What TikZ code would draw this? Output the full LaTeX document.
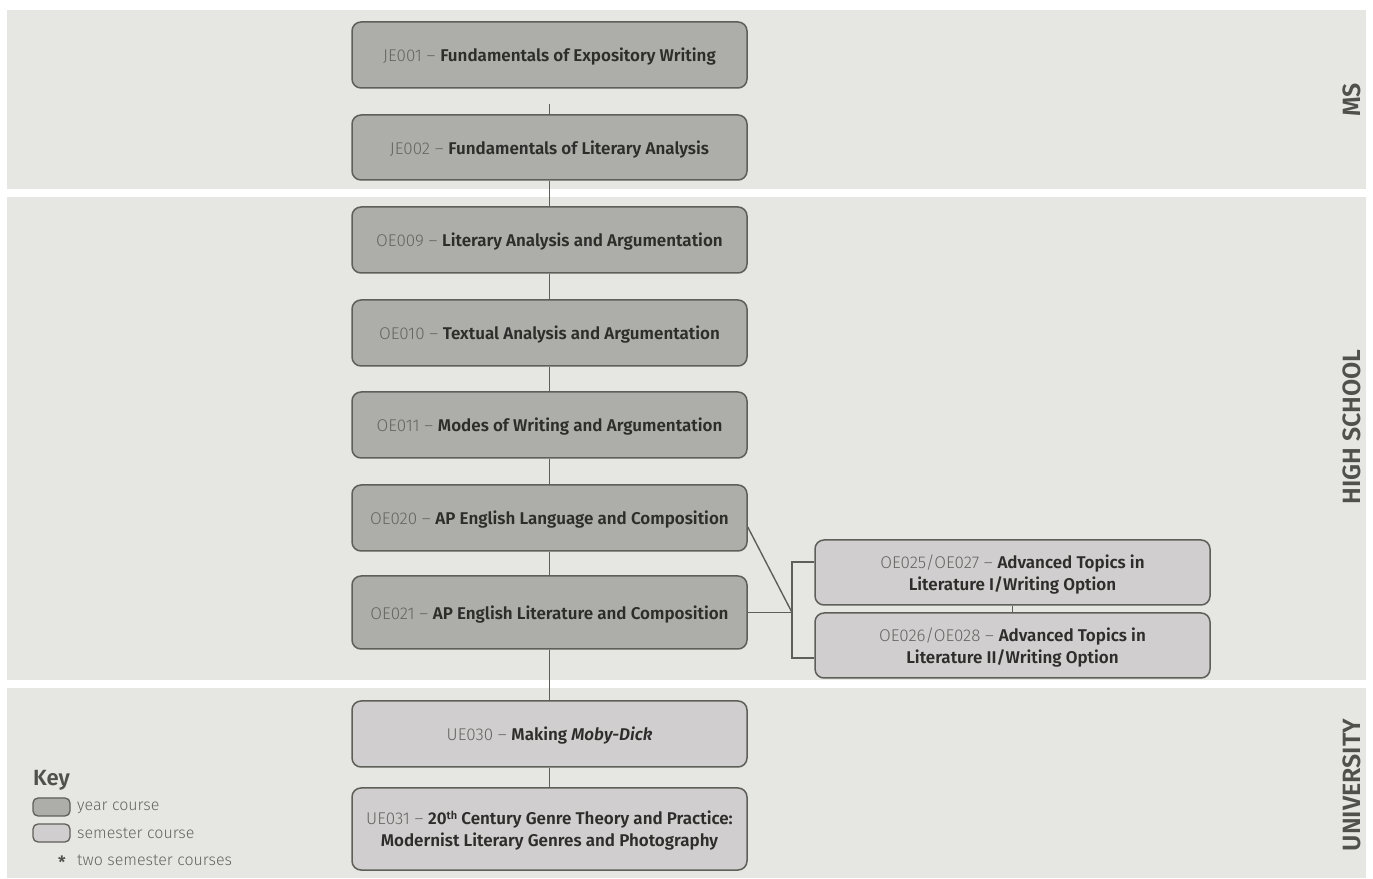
\documentclass[tikz,border=0pt]{standalone}
\usepackage{fontspec}
\setmainfont{Fira Sans}[UprightFont={Fira Sans Light}, BoldFont={Fira Sans SemiBold}, ItalicFont={Fira Sans Light Italic}, BoldItalicFont={Fira Sans SemiBold Italic}]
\definecolor{band}{RGB}{230,230,226}
\definecolor{yearfill}{RGB}{173,173,169}
\definecolor{semfill}{RGB}{208,206,206}
\definecolor{edge}{RGB}{95,95,90}
\definecolor{codegray}{RGB}{100,100,98}
\definecolor{titletext}{RGB}{45,45,43}
\definecolor{sidetext}{RGB}{80,80,76}
\newcommand{\cc}[1]{{\color{codegray}#1}}
\tikzset{
  course/.style={draw=edge, line width=1.5pt, rounded corners=9pt, minimum width=395pt, minimum height=66pt, align=center, text=titletext, font=\fontsize{17}{22}\selectfont, inner sep=0pt, text depth=0pt},
  yearc/.style={course, fill=yearfill},
  semc/.style={course, fill=semfill},
  conn/.style={draw=edge, line width=1.4pt},
  bandbox/.style={fill=band, draw=none},
  sidelabel/.style={rotate=90, text=sidetext, font=\fontsize{25}{28}\selectfont\bfseries},
  keybox/.style={draw=edge, line width=1.3pt, rounded corners=5pt},
  keytext/.style={anchor=west, text=codegray, font=\fontsize{16}{20}\selectfont, inner sep=0pt}
}
\begin{document}
\begin{tikzpicture}[x=1pt,y=1pt]
\useasboundingbox (0,0) rectangle (1373,878);
\fill[white] (0,0) rectangle (1373,878);
% bands
\path[bandbox] (7,689) rectangle (1366,868);
\path[bandbox] (7,198) rectangle (1366,681);
\path[bandbox] (7,0) rectangle (1366,190);
% side labels
\node[sidelabel] (lms) at (1352,778) {MS};
\node[sidelabel] (lhs) at (1352,451) {HIGH SCHOOL};
\node[sidelabel] (luni) at (1352,93) {UNIVERSITY};
% nodes
\node[yearc] (je1) at (549.5,823) {\cc{JE001 –} \textbf{Fundamentals of Expository Writing}};
\node[yearc, minimum height=65pt] (je2) at (549.5,730.5) {\cc{JE002 –} \textbf{Fundamentals of Literary Analysis}};
\node[yearc] (oe9) at (549.5,638) {\cc{OE009 –} \textbf{Literary Analysis and Argumentation}};
\node[yearc] (oe10) at (549.5,545) {\cc{OE010 –} \textbf{Textual Analysis and Argumentation}};
\node[yearc] (oe11) at (549.5,453) {\cc{OE011 –} \textbf{Modes of Writing and Argumentation}};
\node[yearc] (oe20) at (549.5,360) {\cc{OE020 –} \textbf{AP English Language and Composition}};
\node[yearc, minimum height=73pt] (oe21) at (549.5,265.5) {\cc{OE021 –} \textbf{AP English Literature and Composition}};
\node[semc] (ue30) at (549.5,144) {\cc{UE030 –} \textbf{Making \textit{Moby-Dick}}};
\node[semc, minimum height=82pt] (ue31) at (549.5,49) {\cc{UE031 –} \textbf{20{\fontsize{11}{12}\selectfont\raisebox{5pt}{th}} Century Genre Theory and Practice:}\\\textbf{Modernist Literary Genres and Photography}};
\node[semc, minimum height=65pt] (oe25) at (1012.5,305.5) {\cc{OE025/OE027 –} \textbf{Advanced Topics in}\\\textbf{Literature I/Writing Option}};
\node[semc, minimum height=65pt] (oe26) at (1012.5,232.5) {\cc{OE026/OE028 –} \textbf{Advanced Topics in}\\\textbf{Literature II/Writing Option}};
% connectors
\coordinate (stub) at (549.5,774);
\coordinate (hub) at (792,265.5);
\draw[conn] (je2.north) -- (stub);
\draw[conn] (je2) -- (oe9);
\draw[conn] (oe9) -- (oe10);
\draw[conn] (oe10) -- (oe11);
\draw[conn] (oe11) -- (oe20);
\draw[conn] (oe20) -- (oe21);
\draw[conn] (oe21) -- (ue30);
\draw[conn] (ue30) -- (ue31);
\draw[conn] ([yshift=-9pt]oe20.east) -- (hub);
\draw[conn] (oe21.east) -- (hub);
\draw[conn] ([yshift=10.5pt]oe25.west) -| (hub);
\draw[conn] (hub) |- ([yshift=-12.5pt]oe26.west);
\draw[conn] (oe25.south) -- (oe26.north);
% key
\node[anchor=west, inner sep=0pt, text=sidetext, font=\fontsize{22}{26}\selectfont\bfseries] (key) at (33,98) {Key};
\draw[keybox, fill=yearfill] (33,62) rectangle (70,80);
\draw[keybox, fill=semfill] (33,36) rectangle (70,54);
\node[keytext] (k1) at (77,70) {year course};
\node[keytext] (k2) at (77,45) {semester course};
\node[keytext] (k3) at (77,18) {two semester courses};
\node[anchor=center, inner sep=0pt, text=sidetext, font=\fontsize{17}{18}\selectfont\bfseries] (ast) at (62,16) {*};
\end{tikzpicture}
\end{document}
